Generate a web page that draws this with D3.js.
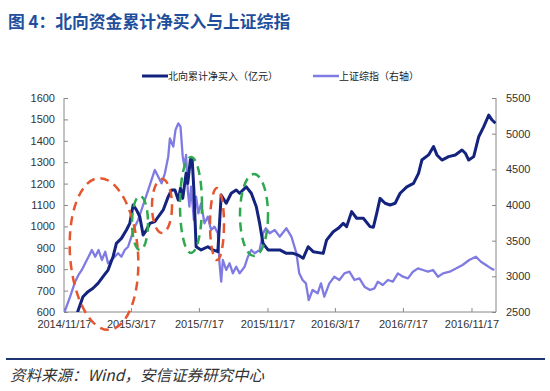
<!DOCTYPE html>
<html><head><meta charset="utf-8">
<script src="https://cdn.jsdelivr.net/npm/d3@7"></script>
<style>body{margin:0;background:#fff}svg{display:block}</style>
</head><body><svg id="c" width="550" height="391"></svg>
<script>
const title = "图 4：北向资金累计净买入与上证综指";
const source = "资料来源：Wind，安信证券研究中心";
const seriesNames = ["北向累计净买入（亿元）", "上证综指（右轴）"];
const xTickLabels = ["2014/11/17","2015/3/17","2015/7/17","2015/11/17","2016/3/17","2016/7/17","2016/11/17"];
const leftTicks = [600,700,800,900,1000,1100,1200,1300,1400,1500,1600];
const rightTicks = [2500,3000,3500,4000,4500,5000,5500];

const northDates = ["2014-12-08","2014-12-12","2014-12-21","2014-12-30","2015-01-08","2015-01-17","2015-01-26","2015-02-04","2015-02-13","2015-02-19","2015-02-28","2015-03-09","2015-03-15","2015-03-21","2015-03-27","2015-04-02","2015-04-08","2015-04-14","2015-04-20","2015-04-29","2015-05-05","2015-05-14","2015-05-23","2015-05-29","2015-06-04","2015-06-10","2015-06-14","2015-06-18","2015-06-24","2015-06-27","2015-07-02","2015-07-05","2015-07-08","2015-07-12","2015-07-21","2015-08-02","2015-08-11","2015-08-20","2015-08-26","2015-09-04","2015-09-13","2015-09-22","2015-09-28","2015-10-10","2015-10-19","2015-10-28","2015-11-03","2015-11-09","2015-11-18","2015-11-27","2015-12-09","2015-12-21","2016-01-02","2016-01-11","2016-01-20","2016-01-29","2016-02-07","2016-02-25","2016-03-02","2016-03-14","2016-03-23","2016-04-01","2016-04-07","2016-04-16","2016-04-25","2016-05-07","2016-05-19","2016-05-25","2016-05-31","2016-06-06","2016-06-15","2016-06-24","2016-07-03","2016-07-12","2016-07-24","2016-08-05","2016-08-14","2016-08-20","2016-09-01","2016-09-10","2016-09-16","2016-09-25","2016-10-07","2016-10-19","2016-10-31","2016-11-06","2016-11-12","2016-11-21","2016-11-30","2016-12-09","2016-12-18","2016-12-24","2016-12-30"];
const northValues = [560,605,671,695,711,734,765,796,858,921,944,983,1014,1100,1077,1045,960,983,1014,1022,1045,1077,1139,1170,1170,1123,1178,1131,1248,1201,1318,1310,1170,905,890,905,890,882,1147,1108,1155,1170,1155,1185,1155,1092,1014,921,890,890,890,874,874,866,851,905,882,874,936,975,991,1014,999,1069,1038,1038,999,996,1061,1131,1108,1100,1108,1155,1185,1201,1248,1310,1334,1373,1334,1310,1326,1334,1357,1342,1310,1326,1419,1466,1520,1497,1482];

const shDates = ["2014-11-17","2014-11-28","2014-12-07","2014-12-13","2014-12-19","2014-12-25","2014-12-31","2015-01-06","2015-01-12","2015-01-18","2015-01-24","2015-01-30","2015-02-04","2015-02-10","2015-02-16","2015-02-22","2015-02-28","2015-03-06","2015-03-12","2015-03-18","2015-03-24","2015-03-30","2015-04-05","2015-04-11","2015-04-17","2015-04-23","2015-04-29","2015-05-05","2015-05-11","2015-05-17","2015-05-23","2015-05-26","2015-06-01","2015-06-05","2015-06-10","2015-06-14","2015-06-18","2015-06-21","2015-06-24","2015-06-27","2015-06-30","2015-07-03","2015-07-08","2015-07-12","2015-07-16","2015-07-21","2015-07-27","2015-08-02","2015-08-08","2015-08-14","2015-08-20","2015-08-23","2015-08-26","2015-08-29","2015-09-04","2015-09-10","2015-09-16","2015-09-22","2015-09-28","2015-10-07","2015-10-13","2015-10-19","2015-10-25","2015-11-03","2015-11-09","2015-11-14","2015-11-21","2015-11-30","2015-12-09","2015-12-21","2015-12-30","2016-01-08","2016-01-13","2016-01-19","2016-01-25","2016-01-30","2016-02-06","2016-02-15","2016-02-21","2016-02-27","2016-03-07","2016-03-16","2016-03-25","2016-04-03","2016-04-12","2016-04-21","2016-04-30","2016-05-09","2016-05-19","2016-05-27","2016-06-02","2016-06-11","2016-06-20","2016-06-29","2016-07-08","2016-07-17","2016-07-26","2016-08-04","2016-08-13","2016-08-22","2016-08-31","2016-09-09","2016-09-18","2016-09-27","2016-10-09","2016-10-21","2016-11-01","2016-11-13","2016-11-25","2016-12-04","2016-12-13","2016-12-22","2016-12-28"];
const shValues = [2480,2715,2925,3019,3089,3183,3275,3369,3275,3369,3229,3345,3183,3229,3275,3323,3275,3369,3415,3556,3696,3790,3930,4070,4210,4351,4491,4397,4304,4444,4678,4935,4818,5052,5145,5098,4678,4538,4703,4210,3977,4257,3790,4117,3883,4023,3743,3836,3650,3696,3603,3183,2925,3229,3089,3183,3042,3135,3042,3135,3275,3369,3323,3369,3603,3673,3603,3650,3556,3673,3556,3323,3042,2949,2902,2668,2808,2762,2902,2715,2902,2995,2949,3042,3065,2949,2972,2855,2808,2832,2925,2879,2949,2925,3042,2995,2972,3065,3112,3089,3065,3089,2995,3042,3065,3112,3159,3229,3275,3205,3159,3112,3089];

const parse = d3.timeParse("%Y-%m-%d");
const tickParse = d3.timeParse("%Y/%m/%d");
const north = northDates.map((d,i)=>({date:parse(d), v:northValues[i]}));
const sh = shDates.map((d,i)=>({date:parse(d), v:shValues[i]}));

const svg = d3.select("#c");
const L = 64, R = 496, T = 98, B = 312;
const x = d3.scaleTime().domain([parse("2014-11-17"), parse("2016-12-31")]).range([L, R]);
const yL = d3.scaleLinear().domain([600,1600]).range([B, T]);
const yR = d3.scaleLinear().domain([2500,5500]).range([B, T]);

// title
svg.append("text").attr("x", 8).attr("y", 28)
  .attr("font-family", "'Noto Sans CJK SC', sans-serif").attr("font-size", 16.8).attr("font-weight", "bold")
  .attr("fill", "#1f4f9c").text(title);

// legend
const lg = svg.append("g").attr("font-family","'Noto Sans CJK SC', sans-serif").attr("font-size",10).attr("fill","#222");
lg.append("line").attr("x1",142).attr("x2",168).attr("y1",76).attr("y2",76).attr("stroke","#13237e").attr("stroke-width",3);
lg.append("text").attr("x",168).attr("y",80).text(seriesNames[0]);
lg.append("line").attr("x1",313).attr("x2",339).attr("y1",76).attr("y2",76).attr("stroke","#7f7be3").attr("stroke-width",2.5);
lg.append("text").attr("x",339).attr("y",80).text(seriesNames[1]);

// axes
const axisFont = "'Liberation Sans', Arial, sans-serif";
const gL = svg.append("g").attr("transform", `translate(${L},0)`)
  .call(d3.axisLeft(yL).tickValues(leftTicks).tickSize(-4).tickPadding(9).tickFormat(d3.format("d")));
const gR = svg.append("g").attr("transform", `translate(${R},0)`)
  .call(d3.axisRight(yR).tickValues(rightTicks).tickSize(-4).tickPadding(10).tickFormat(d3.format("d")));
const gX = svg.append("g").attr("transform", `translate(0,${B})`)
  .call(d3.axisBottom(x).tickValues(xTickLabels.map(s=>tickParse(s))).tickSize(-4).tickPadding(8)
    .tickFormat((d,i)=>xTickLabels[i]));
[gL,gR,gX].forEach(g=>{
  g.select(".domain").attr("stroke","#888").attr("stroke-width",1);
  g.selectAll(".tick line").attr("stroke","#888");
  g.selectAll(".tick text").attr("font-family",axisFont).attr("font-size",11).attr("fill","#333");
});
gX.select(".domain").attr("d", `M${L},0H${R}`);
gL.select(".domain").attr("d", `M0,${T}V${B}`);
gR.select(".domain").attr("d", `M0,${T}V${B}`);

// clip
svg.append("clipPath").attr("id","plot").append("rect").attr("x",L).attr("y",T-20).attr("width",R-L).attr("height",B-T+20);

const plot = svg.append("g").attr("clip-path","url(#plot)");
plot.append("path").datum(sh)
  .attr("d", d3.line().x(d=>x(d.date)).y(d=>yR(d.v)))
  .attr("fill","none").attr("stroke","#7f7be3").attr("stroke-width",2.3).attr("stroke-linejoin","round");
plot.append("path").datum(north)
  .attr("d", d3.line().x(d=>x(d.date)).y(d=>yL(d.v)))
  .attr("fill","none").attr("stroke","#13237e").attr("stroke-width",3).attr("stroke-linejoin","round");

// annotation ellipses (dashed)
const ann = svg.append("g").attr("fill","none").attr("stroke-width",2.5).attr("stroke-dasharray","9,6");
ann.append("ellipse").attr("cx",104).attr("cy",254).attr("rx",34).attr("ry",76).attr("stroke","#e5562e").attr("transform","rotate(-4,104,254)");
ann.append("ellipse").attr("cx",162).attr("cy",206).attr("rx",10).attr("ry",27).attr("stroke","#e5562e");
ann.append("ellipse").attr("cx",217).attr("cy",224).attr("rx",7).attr("ry",36).attr("stroke","#e5562e");
ann.append("ellipse").attr("cx",140).attr("cy",223).attr("rx",8).attr("ry",27).attr("stroke","#2fa84f");
ann.append("ellipse").attr("cx",191).attr("cy",205).attr("rx",11).attr("ry",48).attr("stroke","#2fa84f");
ann.append("ellipse").attr("cx",254).attr("cy",215).attr("rx",14).attr("ry",41).attr("stroke","#2fa84f");

// footer
svg.append("line").attr("x1",6).attr("x2",545).attr("y1",359).attr("y2",359).attr("stroke","#1f3573").attr("stroke-width",2);
svg.append("text").attr("x",10).attr("y",381)
  .attr("font-family","'Noto Sans CJK SC', sans-serif").attr("font-size",15.5).attr("font-style","italic")
  .attr("fill","#333").text(source);
</script></body></html>
